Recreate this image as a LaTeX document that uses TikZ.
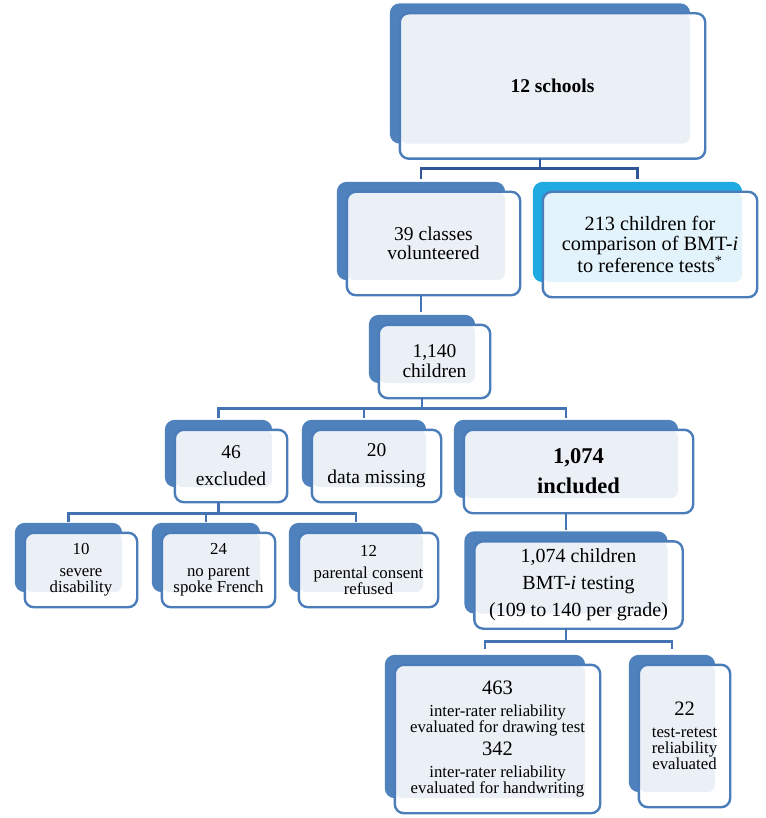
\documentclass[tikz,border=0pt]{standalone}
\usepackage{fontspec}
\setmainfont{Liberation Serif}
\usepackage{tikz}
\usetikzlibrary{positioning, backgrounds}

\definecolor{backblue}{HTML}{4F81BD}
\definecolor{backcyan}{HTML}{1FAAE2}
\definecolor{panelblue}{HTML}{EBF0F7}
\definecolor{panelcyan}{HTML}{E3F3FB}
\definecolor{edgeblue}{HTML}{4A7DBA}
\definecolor{linkblue}{HTML}{4373B2}
\definecolor{linkdark}{HTML}{2F5597}

\tikzset{
  box/.style={align=center, inner sep=0pt},
  boxsize/.style 2 args={minimum width=#1pt, minimum height=#2pt},
  big/.style={font=\fontsize{19.5}{19}\selectfont},
  small/.style={font=\fontsize{16.8}{16}\selectfont},
  link/.style={draw=linkblue, line width=2.6pt},
}

\newcommand{\bignum}[1]{{\fontsize{20.5}{20}\selectfont #1}}

\begin{document}
\begin{tikzpicture}[x=1pt, y=-1pt]
    \useasboundingbox (0,0) rectangle (765,818);

    % top row
    \node[box, boxsize={305}{145}, font=\fontsize{19.5}{20}\selectfont\bfseries] (schools) at (552.5,86) {12 schools};
    \node[box, big, boxsize={173}{103}] (classes) at (433.5,243.5) {39 classes\\volunteered};
    \node[box, boxsize={214}{105}, font=\fontsize{20.3}{20}\selectfont] (comparison) at (650,244.5)
        {213 children for\\comparison of BMT-\textit{i}\\to reference tests\textsuperscript{*}};
    \node[box, big, boxsize={111}{73}] (children) at (434.5,361.5) {1,140\\[1pt]children};

    % second level
    \node[box, big, boxsize={112}{72}] (excluded) at (231,466) {46\\[8pt]excluded};
    \node[box, big, boxsize={129}{72}] (missing) at (376.5,466) {20\\[8pt]data missing};
    \node[box, boxsize={229}{83}, font=\fontsize{22.5}{24}\selectfont\bfseries] (included) at (578.5,471.5) {1,074\\[6pt]included};

    % reasons for exclusion
    \node[box, small, boxsize={112}{74}] (disability) at (81,570) {10\\[6pt]severe\\disability};
    \node[box, small, boxsize={113}{74}] (french) at (218.5,570) {24\\[6pt]no parent\\spoke French};
    \node[box, small, boxsize={139}{74}] (consent) at (368.5,570) {12\\[6pt]parental consent\\refused};

    % testing
    \node[box, boxsize={208}{87}, font=\fontsize{20}{20}\selectfont] (testing) at (578.5,585)
        {1,074 children\\[7pt]BMT-\textit{i} testing\\[7pt](109 to 140 per grade)};
    \node[box, small, boxsize={205}{148}] (interrater) at (497.5,739)
        {\bignum{463}\\[6pt]inter-rater reliability\\evaluated for drawing test\\[4pt]\bignum{342}\\[6pt]inter-rater reliability\\evaluated for handwriting};
    \node[box, small, boxsize={91}{142}] (retest) at (684.5,736)
        {\bignum{22}\\[6pt]test-retest\\reliability\\evaluated};

    % connectors
    \draw[link, draw=linkdark] ([xshift=-12.5pt]schools.south) -- ++(0,10) -| ([shift={(-12.5,-13)}]classes.north);
    \draw[link, draw=linkdark] ([xshift=-12.5pt]schools.south) -- ++(0,10) -| ([shift={(-12.5,-13)}]comparison.north);
    \draw[link] ([xshift=-12.5pt]classes.south) -- ([shift={(-13.5,-13)}]children.north);
    \foreach \c in {excluded, missing, included}
        \draw[link] ([xshift=-12.5pt]children.south) -- ++(0,10) -| ([shift={(-12.5,-12)}]\c.north);
    \foreach \c in {disability, french, consent}
        \draw[link] ([xshift=-12.5pt]excluded.south) -- ++(0,11) -| ([shift={(-12.5,-11)}]\c.north);
    \draw[link] ([xshift=-12.5pt]included.south) -- ([shift={(-12.5,-11)}]testing.north);
    \foreach \c in {interrater, retest}
        \draw[link] ([xshift=-12.5pt]testing.south) -- ++(0,13) -| ([shift={(-12.5,-16)}]\c.north);

    % box faces
    \begin{pgfonlayer}{background}
        \foreach \n/\back/\panel in {schools/backblue/panelblue, classes/backblue/panelblue,
                comparison/backcyan/panelcyan, children/backblue/panelblue,
                excluded/backblue/panelblue, missing/backblue/panelblue, included/backblue/panelblue,
                disability/backblue/panelblue, french/backblue/panelblue, consent/backblue/panelblue,
                testing/backblue/panelblue, interrater/backblue/panelblue, retest/backblue/panelblue} {
            \fill[\back, rounded corners=10pt] ([shift={(-10,-10)}]\n.north west) rectangle ([shift={(-15,-15)}]\n.south east);
            \fill[white, rounded corners=9pt] (\n.north west) rectangle (\n.south east);
            \fill[\panel, rounded corners=8pt] (\n.north west) rectangle ([shift={(-15,-15)}]\n.south east);
            \draw[edgeblue, line width=2.4pt, rounded corners=9pt] (\n.north west) rectangle (\n.south east);
        }
    \end{pgfonlayer}
\end{tikzpicture}
\end{document}
